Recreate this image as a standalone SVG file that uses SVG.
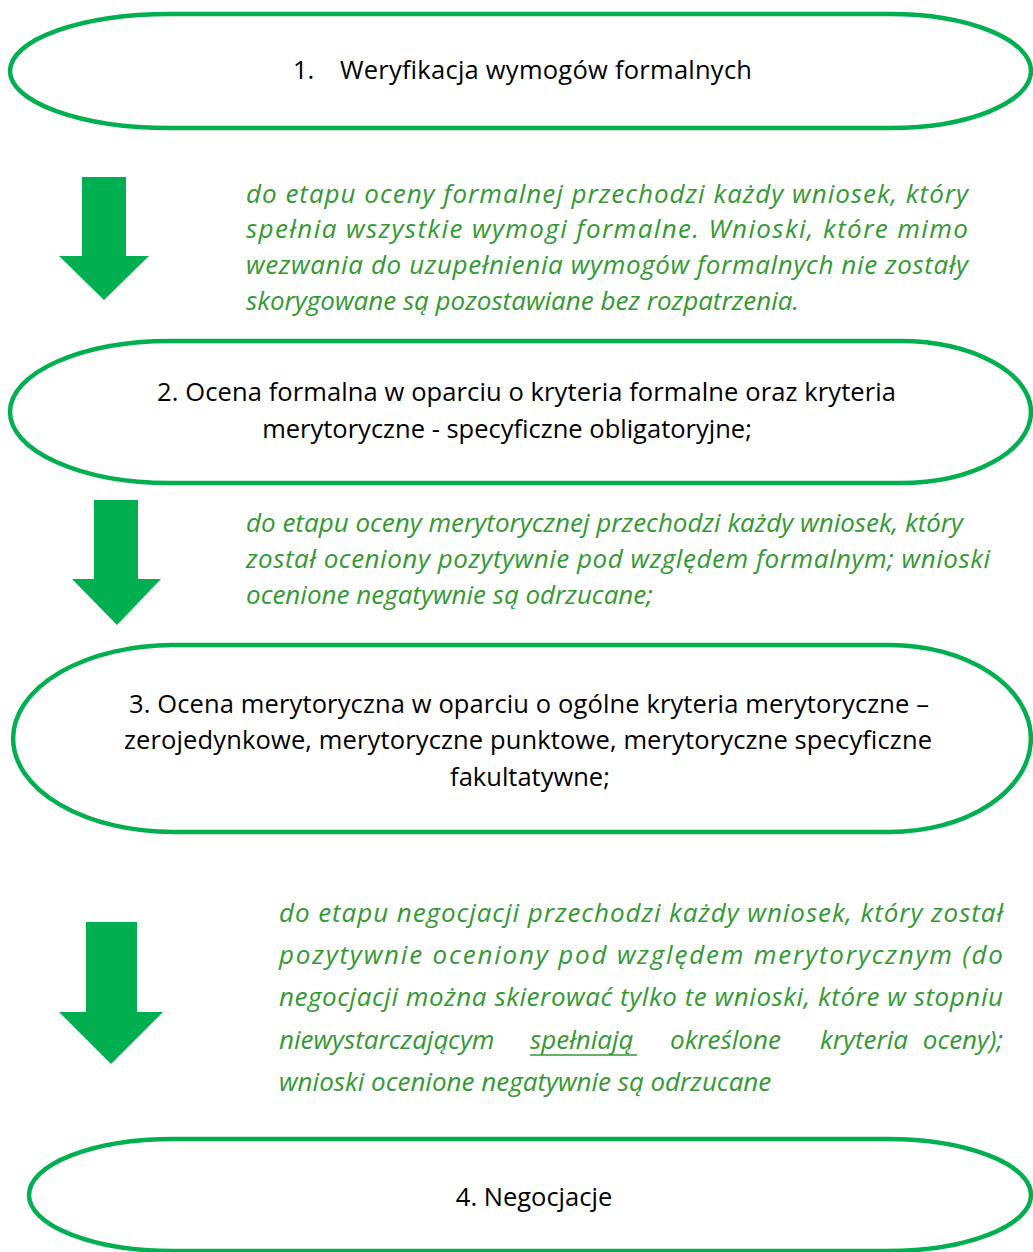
<svg xmlns="http://www.w3.org/2000/svg" width="1033" height="1252" viewBox="0 0 1033 1252">
<style>
.node{fill:#fff;stroke:#00B050;stroke-width:4.5}
.t{font-family:"Open Sans","Liberation Sans",sans-serif;font-size:25.5px;fill:#000}
.g{font-family:"Open Sans","Liberation Sans",sans-serif;font-size:26px;font-style:italic;fill:#339933}
.arrow{fill:#00B050}
</style>
<rect width="1033" height="1252" fill="#fff"/>
<g id="node1">
<path class="node" d="M170,14 H890 A141,57 0 0 1 890,128 H170 A160,57 0 0 1 170,14 Z"/>
<text class="t" x="293" y="79">1.</text>
<text class="t" x="340" y="79" textLength="412">Weryfikacja wymogów formalnych</text>
</g>
<g id="node2">
<path class="node" d="M170,341 H900 A131,71 0 0 1 900,483 H170 A160,71 0 0 1 170,341 Z"/>
<text class="t" x="157" y="401" textLength="739">2. Ocena formalna w oparciu o kryteria formalne oraz kryteria</text>
<text class="t" x="507" y="438" text-anchor="middle">merytoryczne - specyficzne obligatoryjne;</text>
</g>
<g id="node3">
<path class="node" d="M173,645 H890 A141,93.5 0 0 1 890,832 H173 A160,93.5 0 0 1 173,645 Z"/>
<text class="t" x="129" y="713" textLength="800">3. Ocena merytoryczna w oparciu o ogólne kryteria merytoryczne –</text>
<text class="t" x="124" y="749" textLength="808">zerojedynkowe, merytoryczne punktowe, merytoryczne specyficzne</text>
<text class="t" x="530" y="786" text-anchor="middle">fakultatywne;</text>
</g>
<g id="node4">
<path class="node" d="M173,1139 H887 A144,56 0 0 1 887,1251 H173 A144,56 0 0 1 173,1139 Z"/>
<text class="t" x="534" y="1206" text-anchor="middle">4. Negocjacje</text>
</g>
<g id="connectors">
<polygon class="arrow" points="82,177 126,177 126,256 149,256 104,300 59,256 82,256"/>
<polygon class="arrow" points="94,500 138,500 138,579 161,579 117,625 72,579 94,579"/>
<polygon class="arrow" points="86,922 137,922 137,1012 163,1012 111,1064 59,1012 86,1012"/>
</g>
<g id="labels">
<text class="g" x="246" y="203" textLength="722">do etapu oceny formalnej przechodzi każdy wniosek, który</text>
<text class="g" x="246" y="238" textLength="722">spełnia wszystkie wymogi formalne. Wnioski, które mimo</text>
<text class="g" x="246" y="274" textLength="722">wezwania do uzupełnienia wymogów formalnych nie zostały</text>
<text class="g" x="246" y="310">skorygowane są pozostawiane bez rozpatrzenia.</text>
<text class="g" x="246" y="532">do etapu oceny merytorycznej przechodzi każdy wniosek, który</text>
<text class="g" x="246" y="568" textLength="744">został oceniony pozytywnie pod względem formalnym; wnioski</text>
<text class="g" x="246" y="604">ocenione negatywnie są odrzucane;</text>
<text class="g" x="279" y="922" textLength="724">do etapu negocjacji przechodzi każdy wniosek, który został</text>
<text class="g" x="279" y="964" textLength="724">pozytywnie oceniony pod względem merytorycznym (do</text>
<text class="g" x="279" y="1006" textLength="724">negocjacji można skierować tylko te wnioski, które w stopniu</text>
<text class="g" x="279" y="1049">niewystarczającym</text>
<text class="g" x="530" y="1049">spełniają</text>
<text class="g" x="670" y="1049">określone</text>
<text class="g" x="820" y="1049">kryteria</text>
<text class="g" x="1003" y="1049" text-anchor="end">oceny);</text>
<line x1="530" y1="1055" x2="637" y2="1055" stroke="#339933" stroke-width="1.5"/>
<text class="g" x="279" y="1091">wnioski ocenione negatywnie są odrzucane</text>
</g>
</svg>
